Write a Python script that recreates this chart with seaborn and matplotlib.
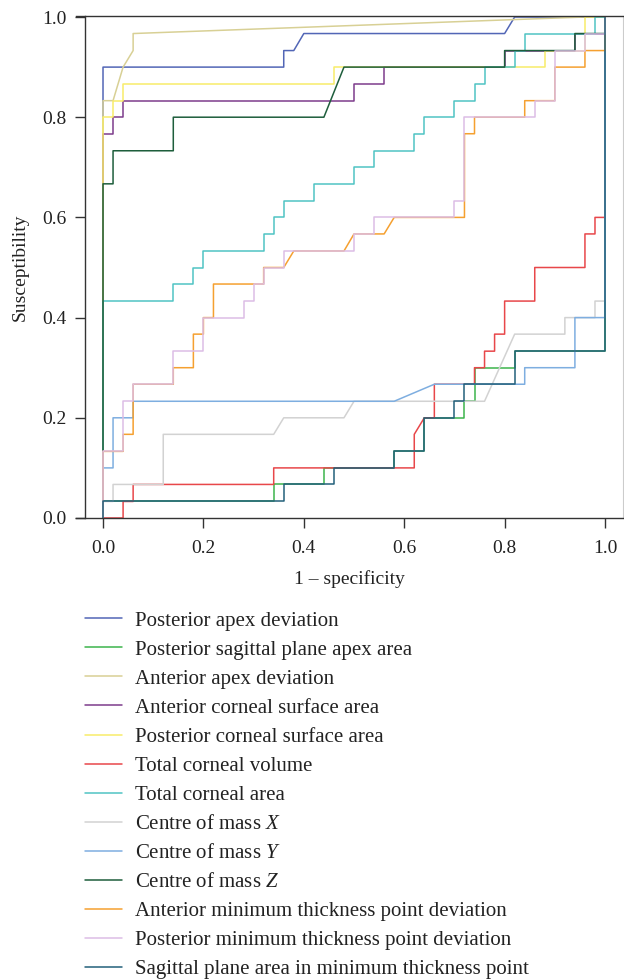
import numpy as np
import pandas as pd
import matplotlib
matplotlib.use("Agg")
import matplotlib.pyplot as plt
import seaborn as sns

names = [
    "Posterior apex deviation",
    "Posterior sagittal plane apex area",
    "Anterior apex deviation",
    "Anterior corneal surface area",
    "Posterior corneal surface area",
    "Total corneal volume",
    "Total corneal area",
    "Centre of mass $X$",
    "Centre of mass $Y$",
    "Centre of mass $Z$",
    "Anterior minimum thickness point deviation",
    "Posterior minimum thickness point deviation",
    "Sagittal plane area in minimum thickness point",
]
colors = ["#5266b6", "#3cb44b", "#d8d095", "#7d3c8c", "#f8ec6a", "#e8474a", "#4fc3c3",
          "#d2d2d2", "#7eaee0", "#1e5e3c", "#f5a030", "#dcbde6", "#23607a"]

fpr_post_apex = [0, 0, 0.36, 0.36, 0.38, 0.40, 0.80, 0.82, 1.00]
tpr_post_apex = [0, 0.900, 0.900, 0.933, 0.933, 0.967, 0.967, 1.000, 1.000]

fpr_post_sag = [0, 0, 0.34, 0.34, 0.44, 0.44, 0.58, 0.58, 0.64, 0.64, 0.72, 0.72, 0.74, 0.74, 0.82, 0.82, 1.00, 1.00]
tpr_post_sag = [0, 0.033, 0.033, 0.067, 0.067, 0.100, 0.100, 0.133, 0.133, 0.200, 0.200, 0.233, 0.233, 0.300, 0.300, 0.333, 0.333, 1.000]

fpr_ant_apex = [0, 0, 0.02, 0.04, 0.06, 0.06, 0.96, 1.00]
tpr_ant_apex = [0, 0.833, 0.833, 0.900, 0.933, 0.967, 1.000, 1.000]

fpr_ant_surf = [0, 0, 0.02, 0.02, 0.04, 0.04, 0.50, 0.50, 0.56, 0.56, 0.80, 0.80, 0.94, 0.94, 1.00, 1.00]
tpr_ant_surf = [0, 0.767, 0.767, 0.800, 0.800, 0.833, 0.833, 0.867, 0.867, 0.900, 0.900, 0.933, 0.933, 0.967, 0.967, 1.000]

fpr_post_surf = [0, 0, 0.02, 0.02, 0.04, 0.04, 0.46, 0.46, 0.88, 0.88, 0.96, 0.96, 1.00]
tpr_post_surf = [0, 0.800, 0.800, 0.833, 0.833, 0.867, 0.867, 0.900, 0.900, 0.933, 0.933, 1.000, 1.000]

fpr_volume = [0, 0.04, 0.04, 0.06, 0.06, 0.34, 0.34, 0.62, 0.62, 0.64, 0.66, 0.66, 0.74, 0.74,
              0.76, 0.76, 0.78, 0.78, 0.80, 0.80, 0.86, 0.86, 0.96, 0.96, 0.98, 0.98, 1.00, 1.00]
tpr_volume = [0, 0, 0.033, 0.033, 0.067, 0.067, 0.100, 0.100, 0.167, 0.200, 0.200, 0.267, 0.267, 0.300,
              0.300, 0.333, 0.333, 0.367, 0.367, 0.433, 0.433, 0.500, 0.500, 0.567, 0.567, 0.600, 0.600, 1.000]

fpr_area = [0, 0, 0.14, 0.14, 0.18, 0.18, 0.20, 0.20, 0.32, 0.32, 0.34, 0.34, 0.36, 0.36, 0.42, 0.42,
            0.50, 0.50, 0.54, 0.54, 0.62, 0.62, 0.64, 0.64, 0.70, 0.70, 0.74, 0.74, 0.76, 0.76,
            0.82, 0.82, 0.84, 0.84, 0.98, 0.98, 1.00]
tpr_area = [0, 0.433, 0.433, 0.467, 0.467, 0.500, 0.500, 0.533, 0.533, 0.567, 0.567, 0.600, 0.600, 0.633, 0.633, 0.667,
            0.667, 0.700, 0.700, 0.733, 0.733, 0.767, 0.767, 0.800, 0.800, 0.833, 0.833, 0.867, 0.867, 0.900,
            0.900, 0.933, 0.933, 0.967, 0.967, 1.000, 1.000]

fpr_mass_x = [0, 0, 0.02, 0.02, 0.12, 0.12, 0.34, 0.36, 0.48, 0.50, 0.76, 0.82, 0.92, 0.92, 0.98, 0.98, 1.00, 1.00]
tpr_mass_x = [0, 0.033, 0.033, 0.067, 0.067, 0.167, 0.167, 0.200, 0.200, 0.233, 0.233, 0.367, 0.367, 0.400, 0.400, 0.433, 0.433, 1.000]

fpr_mass_y = [0, 0, 0.02, 0.02, 0.06, 0.06, 0.58, 0.66, 0.84, 0.84, 0.94, 0.94, 1.00, 1.00]
tpr_mass_y = [0, 0.100, 0.100, 0.200, 0.200, 0.233, 0.233, 0.267, 0.267, 0.300, 0.300, 0.400, 0.400, 1.000]

fpr_mass_z = [0, 0, 0.02, 0.02, 0.14, 0.14, 0.44, 0.48, 0.80, 0.80, 0.94, 0.94, 1.00, 1.00]
tpr_mass_z = [0, 0.667, 0.667, 0.733, 0.733, 0.800, 0.800, 0.900, 0.900, 0.933, 0.933, 0.967, 0.967, 1.000]

fpr_ant_thick = [0, 0, 0.04, 0.04, 0.06, 0.06, 0.14, 0.14, 0.18, 0.18, 0.20, 0.20, 0.22, 0.22, 0.32, 0.32, 0.36,
                 0.38, 0.48, 0.50, 0.56, 0.58, 0.72, 0.72, 0.74, 0.74, 0.84, 0.84, 0.90, 0.90, 0.96, 0.96, 1.00, 1.00]
tpr_ant_thick = [0, 0.133, 0.133, 0.167, 0.167, 0.267, 0.267, 0.300, 0.300, 0.367, 0.367, 0.400, 0.400, 0.467, 0.467, 0.500, 0.500,
                 0.533, 0.533, 0.567, 0.567, 0.600, 0.600, 0.767, 0.767, 0.800, 0.800, 0.833, 0.833, 0.900, 0.900, 0.933, 0.933, 1.000]

fpr_post_thick = [0, 0, 0.04, 0.04, 0.06, 0.06, 0.14, 0.14, 0.20, 0.20, 0.28, 0.28, 0.30, 0.30, 0.32, 0.32, 0.36,
                  0.36, 0.50, 0.50, 0.54, 0.54, 0.70, 0.70, 0.72, 0.72, 0.86, 0.86, 0.90, 0.90, 0.96, 0.96, 1.00, 1.00]
tpr_post_thick = [0, 0.133, 0.133, 0.233, 0.233, 0.267, 0.267, 0.333, 0.333, 0.400, 0.400, 0.433, 0.433, 0.467, 0.467, 0.500, 0.500,
                  0.533, 0.533, 0.567, 0.567, 0.600, 0.600, 0.633, 0.633, 0.800, 0.800, 0.833, 0.833, 0.933, 0.933, 0.967, 0.967, 1.000]

fpr_sag_thick = [0, 0, 0.36, 0.36, 0.46, 0.46, 0.58, 0.58, 0.64, 0.64, 0.70, 0.70, 0.72, 0.72, 0.82, 0.82, 1.00, 1.00]
tpr_sag_thick = [0, 0.033, 0.033, 0.067, 0.067, 0.100, 0.100, 0.133, 0.133, 0.200, 0.200, 0.233, 0.233, 0.267, 0.267, 0.333, 0.333, 1.000]

curves = [
    (fpr_post_apex, tpr_post_apex), (fpr_post_sag, tpr_post_sag), (fpr_ant_apex, tpr_ant_apex),
    (fpr_ant_surf, tpr_ant_surf), (fpr_post_surf, tpr_post_surf), (fpr_volume, tpr_volume),
    (fpr_area, tpr_area), (fpr_mass_x, tpr_mass_x), (fpr_mass_y, tpr_mass_y), (fpr_mass_z, tpr_mass_z),
    (fpr_ant_thick, tpr_ant_thick), (fpr_post_thick, tpr_post_thick), (fpr_sag_thick, tpr_sag_thick),
]

frames = []
for name, (fx, ty) in zip(names, curves):
    frames.append(pd.DataFrame({"fpr": fx, "tpr": ty, "marker": name}))
df = pd.concat(frames, ignore_index=True)

sns.set_style("ticks")
plt.rcParams["font.family"] = ["Liberation Serif", "DejaVu Serif"]
plt.rcParams["mathtext.fontset"] = "custom"
plt.rcParams["mathtext.it"] = "Liberation Serif:italic"
plt.rcParams["mathtext.rm"] = "Liberation Serif"

fig = plt.figure(figsize=(6.24, 9.8), dpi=100)
ax = fig.add_axes([76 / 624, 1 - 518 / 980, (623 - 76) / 624, (518 - 16) / 980])

sns.lineplot(data=df, x="fpr", y="tpr", hue="marker", hue_order=names, palette=colors,
             sort=False, estimator=None, lw=1.1, ax=ax)

ax.set_xlim(-0.0538, 1.0358)
ax.set_ylim(0, 1.002)
ax.spines["left"].set_position(("data", -0.036))
ax.spines["right"].set_color("#cccccc")
for s in ["left", "bottom", "top"]:
    ax.spines[s].set_color("#333333")
    ax.spines[s].set_linewidth(1.0)
ticks = [0, 0.2, 0.4, 0.6, 0.8, 1.0]
ax.set_xticks(ticks)
ax.set_yticks(ticks)
ax.set_xticklabels([f"{t:.1f}" for t in ticks])
ax.set_yticklabels([f"{t:.1f}" for t in ticks])
ax.tick_params(axis="both", direction="out", length=7, width=1.0, colors="#333333",
               labelsize=14, labelcolor="#222222")
ax.tick_params(axis="x", pad=9)
ax.tick_params(axis="y", pad=6)
ax.set_xlabel("1 – specificity", fontsize=14, color="#222222", labelpad=9)
ax.set_ylabel("Susceptibility", fontsize=14, color="#222222", labelpad=10)

handles, labels = ax.get_legend_handles_labels()
ax.legend_.remove()
fig.legend(handles, labels, loc="upper left", bbox_to_anchor=(85 / 624, 1 - 611 / 980),
           frameon=False, fontsize=15, handlelength=1.8, handletextpad=0.62,
           labelspacing=0.455, borderpad=0, borderaxespad=0, labelcolor="#222222")

fig.savefig("out.png", dpi=100)
